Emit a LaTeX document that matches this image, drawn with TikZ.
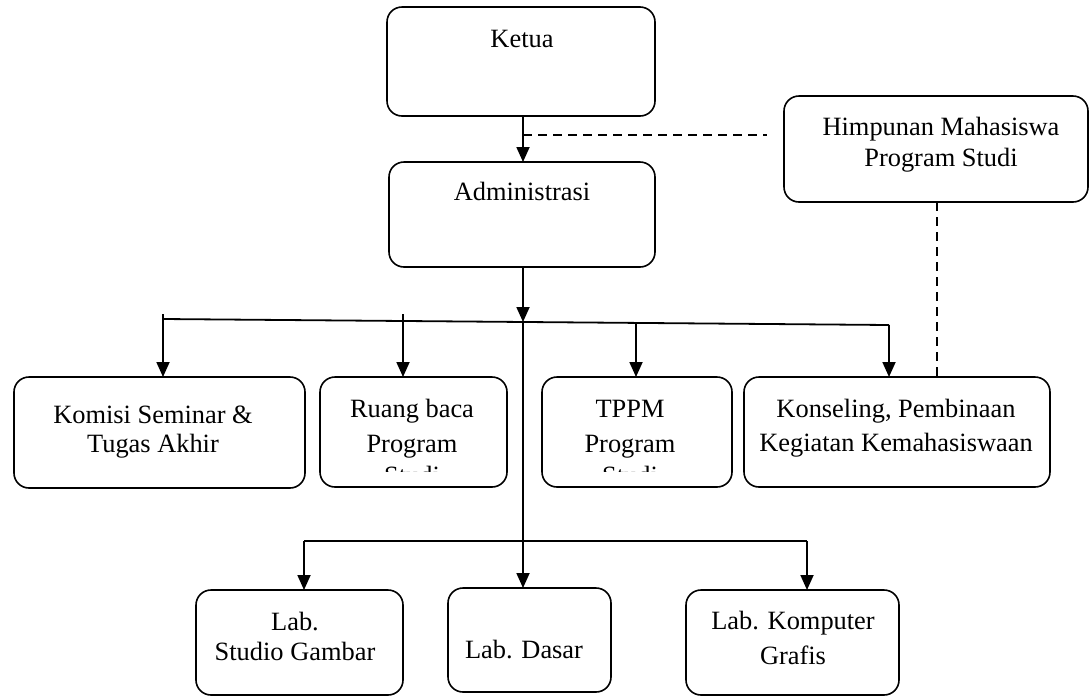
\documentclass[tikz,border=0pt]{standalone}
\usepackage{fontspec}
\setmainfont{Liberation Serif}
\usetikzlibrary{arrows.meta}
\begin{document}
\begin{tikzpicture}[x=1pt,y=-1pt,
  box/.style={draw,line width=1.6pt,rounded corners=15pt,inner sep=0pt,outer sep=0pt},
  txt/.style={anchor=base,inner sep=0pt,outer sep=0pt,font=\fontsize{26.4}{31}\selectfont},
  con/.style={line width=1.8pt},
  arr/.style={line width=1.8pt,-{Triangle[length=15pt,width=13pt]}},
  dsh/.style={line width=1.4pt,dash pattern=on 9pt off 6pt}]
\useasboundingbox (0,0) rectangle (1089,697);
\clip (0,0) rectangle (1089,697);
% boxes
\node[box,minimum width=268pt,minimum height=109pt] (ketua) at (521,61.5) {};
\node[box,minimum width=266pt,minimum height=105pt] (admin) at (522,214.5) {};
\node[box,minimum width=304pt,minimum height=106pt] (himp) at (936,149) {};
\node[box,minimum width=291pt,minimum height=111pt] (komisi) at (159.5,432.5) {};
\node[box,minimum width=187pt,minimum height=110pt] (ruang) at (413.5,432) {};
\node[box,minimum width=190pt,minimum height=110pt] (tppm) at (637,432) {};
\node[box,minimum width=306pt,minimum height=110pt] (kons) at (897,432) {};
\node[box,minimum width=207pt,minimum height=105pt] (labs) at (299.5,642.5) {};
\node[box,minimum width=163pt,minimum height=104pt] (labd) at (529.5,640) {};
\node[box,minimum width=213pt,minimum height=105pt] (labk) at (792.5,642.5) {};
% texts
\node[txt] (ketuaT) at (522,47) {Ketua};
\node[txt] (adminT) at (522,200) {Administrasi};
\node[txt] (himpT1) at (941,135) {Himpunan Mahasiswa};
\node[txt] (himpT2) at (941,166) {Program Studi};
\node[txt] (komisiT1) at (153,423) {Komisi Seminar \&};
\node[txt] (komisiT2) at (153,452) {Tugas Akhir};
\node[txt] (ruangT1) at (412,417) {Ruang baca};
\node[txt] (ruangT2) at (412,452) {Program};
\node[txt] (tppmT1) at (630,417) {TPPM};
\node[txt] (tppmT2) at (630,452) {Program};
\begin{scope}
  \clip (320,377) rectangle (732,471);
  \node[txt] (ruangT3) at (412,484) {Studi};
  \node[txt] (tppmT3) at (630,484) {Studi};
\end{scope}
\node[txt] (konsT1) at (896,417) {Konseling, Pembinaan};
\node[txt] (konsT2) at (896,451) {Kegiatan Kemahasiswaan};
\node[txt] (labsT1) at (295,630) {Lab.};
\node[txt] (labsT2) at (295,660) {Studio Gambar};
\node[txt] (labdT) at (524,658) {Lab. Dasar};
\node[txt] (labkT1) at (793,629) {Lab. Komputer};
\node[txt] (labkT2) at (793,664) {Grafis};
% coordinates
\coordinate (d1) at (523,135);
\coordinate (d2) at (767,135);
\coordinate (bL) at (163,319);
\coordinate (bR) at (889,325);
\coordinate (bRu) at (403,321);
\coordinate (bC) at (523,322);
\coordinate (bT) at (636,323);
\coordinate (tL) at (163,314);
\coordinate (tRu) at (403,314);
\coordinate (lL) at (304,541);
\coordinate (lR) at (807,541);
\coordinate (lC) at (523,541);
% connectors
\draw[arr] (ketua.south -| d1) -- (admin.north -| d1);
\draw[dsh] (d1) -- (d2);
\draw[dsh] (himp.south -| 937,0) -- (kons.north -| 937,0);
\draw[arr] (admin.south -| bC) -- (bC);
\draw[con] (bL) -- (bR);
\draw[arr] (tL) -- (komisi.north -| tL);
\draw[arr] (tRu) -- (ruang.north -| tRu);
\draw[arr] (bT) -- (tppm.north -| bT);
\draw[arr] (bR) -- (kons.north -| bR);
\draw[arr] (bC) -- (labd.north -| bC);
\draw[con] (lL) -- (lR);
\draw[arr] (lL) -- (labs.north -| lL);
\draw[arr] (lR) -- (labk.north -| lR);
\end{tikzpicture}
\end{document}
